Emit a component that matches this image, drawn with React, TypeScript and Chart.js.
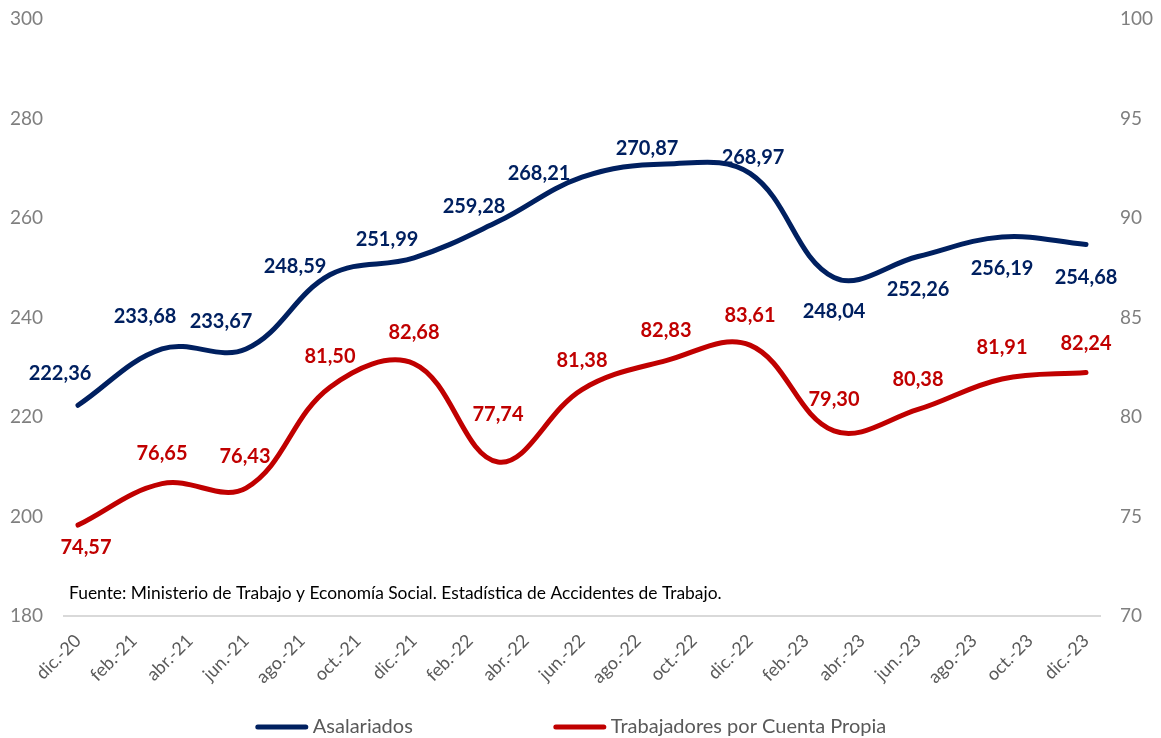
import React, { useEffect, useRef } from "react";
import { Chart, registerables } from "chart.js";

Chart.register(...registerables);

// Monthly category slots of the date axis
const months = [
  "dic.-20", "ene.-21", "feb.-21", "mar.-21", "abr.-21", "may.-21", "jun.-21", "jul.-21", "ago.-21", "sep.-21", "oct.-21", "nov.-21",
  "dic.-21", "ene.-22", "feb.-22", "mar.-22", "abr.-22", "may.-22", "jun.-22", "jul.-22", "ago.-22", "sep.-22", "oct.-22", "nov.-22",
  "dic.-22", "ene.-23", "feb.-23", "mar.-23", "abr.-23", "may.-23", "jun.-23", "jul.-23", "ago.-23", "sep.-23", "oct.-23", "nov.-23",
  "dic.-23",
];
// Tick labels shown (every two months)
const tickLabels = [
  "dic.-20", "feb.-21", "abr.-21", "jun.-21", "ago.-21", "oct.-21", "dic.-21", "feb.-22", "abr.-22", "jun.-22",
  "ago.-22", "oct.-22", "dic.-22", "feb.-23", "abr.-23", "jun.-23", "ago.-23", "oct.-23", "dic.-23",
];
// Quarterly observation dates
const quarters = [
  "dic.-20", "mar.-21", "jun.-21", "sep.-21", "dic.-21", "mar.-22", "jun.-22", "sep.-22", "dic.-22", "mar.-23", "jun.-23", "sep.-23", "dic.-23",
];
const asalariados = [222.36, 233.68, 233.67, 248.59, 251.99, 259.28, 268.21, 270.87, 268.97, 248.04, 252.26, 256.19, 254.68];
const cuentaPropia = [74.57, 76.65, 76.43, 81.5, 82.68, 77.74, 81.38, 82.83, 83.61, 79.3, 80.38, 81.91, 82.24];

const leftTicks = [180, 200, 220, 240, 260, 280, 300];
const rightTicks = [70, 75, 80, 85, 90, 95, 100];

const seriesNames = ["Asalariados", "Trabajadores por Cuenta Propia"];
const sourceNote = "Fuente: Ministerio de Trabajo y Economía Social. Estadística de Accidentes de Trabajo.";

// label offsets (style)
const blueLabelDx = [-18, -17, -25, -35, -27, -24, -43, -19, 3, 0, 0, 0, 0];
const blueLabelDy = [-32, -32, -27, -8, -18, -15, -4, -15, -16, 34, 33, 32, 33];
const redLabelDx = [8, 0, -1, 0, 0, 0, 0, 0, 0, 0, 0, 0, 0];
const redLabelDy = [22, -30, -31, -31, -31, -47, -29, -30, -30, -31, -30, -31, -29];

const BLUE = "#002060";
const RED = "#C00000";
const FONT = "Lato, 'Noto Sans', sans-serif";

const fmt = (v: number) => v.toFixed(2).replace(".", ",");

const labelsPlugin = {
  id: "customLabels",
  afterDatasetsDraw(chart: any) {
    const ctx = chart.ctx;
    ctx.save();
    ctx.font = `bold 20px ${FONT}`;
    ctx.textAlign = "center";
    ctx.textBaseline = "middle";
    const offs = [
      [blueLabelDx, blueLabelDy],
      [redLabelDx, redLabelDy],
    ];
    chart.data.datasets.forEach((ds: any, di: number) => {
      const meta = chart.getDatasetMeta(di);
      ctx.fillStyle = ds.borderColor;
      meta.data.forEach((pt: any, i: number) => {
        const v = ds.data[i].y;
        ctx.fillText(fmt(v), pt.x + offs[di][0][i], pt.y + offs[di][1][i]);
      });
    });
    ctx.restore();
  },
  afterDraw(chart: any) {
    const ctx = chart.ctx;
    const area = chart.chartArea;
    ctx.save();
    // source note
    ctx.font = `17.4px ${FONT}`;
    ctx.fillStyle = "#000000";
    ctx.textAlign = "left";
    ctx.textBaseline = "middle";
    ctx.fillText(sourceNote, area.left + 5, area.bottom - 23);
    // legend
    ctx.font = `20px ${FONT}`;
    const lineW = 54;
    const gapText = 4;
    const gapItems = 140;
    const widths = seriesNames.map((n) => ctx.measureText(n).width);
    const total = widths.reduce((a, w) => a + lineW + gapText + w, 0) + gapItems;
    let x = chart.width / 2 - 10 - total / 2;
    const y = area.bottom + 111;
    const colors = [BLUE, RED];
    seriesNames.forEach((n, i) => {
      ctx.strokeStyle = colors[i];
      ctx.lineWidth = 5;
      ctx.lineCap = "round";
      ctx.beginPath();
      ctx.moveTo(x + 3, y);
      ctx.lineTo(x + lineW - 3, y);
      ctx.stroke();
      ctx.fillStyle = "#595959";
      ctx.fillText(n, x + lineW + gapText, y);
      x += lineW + gapText + widths[i] + gapItems;
    });
    ctx.restore();
  },
};

export default function App() {
  const canvasRef = useRef<HTMLCanvasElement | null>(null);

  useEffect(() => {
    const canvas = canvasRef.current;
    if (!canvas) return;
    const chart = new Chart(canvas, {
      type: "line",
      data: {
        labels: months,
        datasets: [
          {
            label: seriesNames[0],
            data: quarters.map((q, i) => ({ x: q, y: asalariados[i] })) as any,
            borderColor: BLUE,
            backgroundColor: BLUE,
            borderWidth: 5,
            borderCapStyle: "round",
            pointRadius: 0,
            tension: 0.38,
            yAxisID: "y",
          },
          {
            label: seriesNames[1],
            data: quarters.map((q, i) => ({ x: q, y: cuentaPropia[i] })) as any,
            borderColor: RED,
            backgroundColor: RED,
            borderWidth: 5,
            borderCapStyle: "round",
            pointRadius: 0,
            tension: 0.38,
            yAxisID: "y1",
          },
        ],
      },
      options: {
        animation: false,
        responsive: false,
        maintainAspectRatio: false,
        layout: { padding: { top: 19, left: 0, right: 0, bottom: 0 } },
        plugins: {
          legend: { display: false },
          tooltip: { enabled: false },
        },
        scales: {
          x: {
            type: "category",
            offset: true,
            grid: { display: false, drawTicks: false },
            border: { display: true, color: "#d9d9d9", width: 2 },
            ticks: {
              autoSkip: false,
              maxRotation: 45,
              minRotation: 45,
              padding: 14,
              color: "#595959",
              font: { family: FONT, size: 18 },
              callback: (_v: any, idx: number) => (tickLabels.includes(months[idx]) ? months[idx] : ""),
            },
            afterFit: (s: any) => {
              s.height = 122;
            },
          },
          y: {
            position: "left",
            min: 180,
            max: 300,
            grid: { display: false, drawTicks: false },
            border: { display: false },
            afterBuildTicks: (s: any) => {
              s.ticks = leftTicks.map((v) => ({ value: v }));
            },
            ticks: {
              padding: 21,
              color: "#7f7f7f",
              font: { family: FONT, size: 19 },
            },
            afterFit: (s: any) => {
              s.width = 64;
              s.paddingTop = 10;
              s.paddingBottom = 10;
            },
          },
          y1: {
            position: "right",
            min: 70,
            max: 100,
            grid: { display: false, drawTicks: false },
            border: { display: false },
            afterBuildTicks: (s: any) => {
              s.ticks = rightTicks.map((v) => ({ value: v }));
            },
            ticks: {
              padding: 20,
              color: "#7f7f7f",
              font: { family: FONT, size: 19 },
            },
            afterFit: (s: any) => {
              s.width = 61;
              s.paddingTop = 10;
              s.paddingBottom = 10;
            },
          },
        },
      },
      plugins: [labelsPlugin],
    });
    return () => chart.destroy();
  }, []);

  return (
    <div style={{ position: "absolute", left: 0, top: 0, width: 1161, height: 738, background: "#ffffff" }}>
      <canvas ref={canvasRef} width={1161} height={738} style={{ width: 1161, height: 738, display: "block" }} />
    </div>
  );
}
